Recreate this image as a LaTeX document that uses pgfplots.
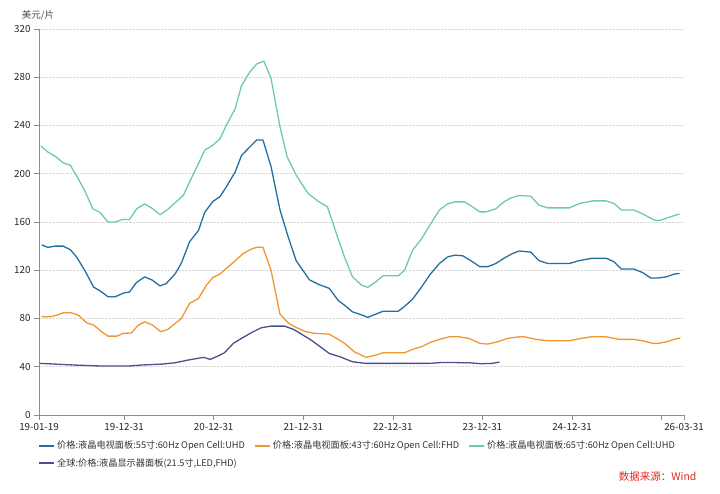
\documentclass[border=0pt]{standalone}
\usepackage{fontspec}
\setmainfont{Noto Sans CJK SC}
\usepackage{pgfplots}
\pgfplotsset{compat=1.18}

\definecolor{c55}{RGB}{36,111,158}
\definecolor{c43}{RGB}{242,150,48}
\definecolor{c65}{RGB}{109,200,183}
\definecolor{cmon}{RGB}{75,80,140}
\definecolor{axgray}{RGB}{140,140,140}
\definecolor{srcred}{RGB}{224,40,30}

\begin{document}
\begin{tikzpicture}
\path[use as bounding box] (0,0) rectangle (720pt,493pt);
\begin{axis}[
    at={(39pt,78pt)}, anchor=south west,
    width=645pt, height=386pt, scale only axis,
    xmin=2019.05, xmax=2026.25,
    ymin=0, ymax=320,
    axis lines*=left,
    axis line style={axgray, line width=0.8pt},
    xtick={2019.05,2020,2021,2022,2023,2024,2025,2026,2026.25},
    xticklabels={19-01-19,19-12-31,20-12-31,21-12-31,22-12-31,23-12-31,24-12-31,,26-03-31},
    scaled x ticks=false,
    ytick={0,40,...,320},
    tick align=outside,
    major tick length=5pt,
    tick style={axgray, line width=0.6pt},
    ymajorgrids=true,
    grid style={densely dotted, black!15, line width=0.8pt},
    ticklabel style={font=\fontsize{9.8}{11}\selectfont, text=black!85},
    /pgf/number format/assume math mode=true,
    legend columns=3,
    legend cell align=left,
    legend style={at={(0,0)}, anchor=north west, xshift=-4pt, yshift=-22pt,
        draw=none, fill=none, font=\fontsize{9.2}{11}\selectfont, text=black!80,
        row sep=4pt,
        /tikz/every even column/.append style={column sep=7pt}},
    legend image code/.code={\draw[#1, line width=2pt] (0pt,0pt) -- (15pt,0pt);},
    every axis plot/.append style={line width=1.3pt, line join=round, no markers},
]
% 55 inch UHD
\addplot[c55] coordinates {
(2019.08,141) (2019.15,139) (2019.23,140) (2019.32,140) (2019.40,137) (2019.47,131)
(2019.56,120) (2019.66,106) (2019.73,103) (2019.82,98) (2019.90,98) (2019.99,101)
(2020.06,102) (2020.14,110) (2020.23,114.5) (2020.31,112) (2020.40,107) (2020.47,109)
(2020.57,117) (2020.64,126) (2020.73,143.5) (2020.83,153) (2020.90,168) (2020.99,177)
(2021.07,181) (2021.14,189) (2021.24,201.5) (2021.31,215) (2021.40,222) (2021.48,228)
(2021.55,228) (2021.64,206) (2021.74,170) (2021.83,148) (2021.92,128) (2022.07,112)
(2022.18,108) (2022.29,105) (2022.39,95) (2022.46,91) (2022.55,85.5) (2022.65,83)
(2022.72,81) (2022.81,83.6) (2022.89,86) (2023.06,86) (2023.13,90) (2023.22,96)
(2023.32,106) (2023.41,116) (2023.52,125.6) (2023.61,131) (2023.69,132.5) (2023.78,132)
(2023.87,128) (2023.97,123) (2024.06,123) (2024.15,125.6) (2024.24,130) (2024.34,134)
(2024.41,136) (2024.54,135) (2024.63,128) (2024.73,125.6) (2024.97,125.6) (2025.08,128)
(2025.23,130) (2025.38,130) (2025.47,127) (2025.55,121) (2025.69,121) (2025.79,118)
(2025.88,113.5) (2025.95,113.5) (2026.05,114.5) (2026.14,116.8) (2026.20,117.4)
};
\addlegendentry{价格:液晶电视面板:55寸:60Hz Open Cell:UHD}
% 43 inch FHD
\addplot[c43] coordinates {
(2019.08,81.4) (2019.17,81.4) (2019.25,82.8) (2019.32,84.7) (2019.41,84.7) (2019.49,82.8)
(2019.58,76.5) (2019.66,74.5) (2019.75,69) (2019.82,65.4) (2019.92,65.4) (2019.99,67.7)
(2020.08,68) (2020.16,74.5) (2020.23,77.3) (2020.32,74.5) (2020.41,69) (2020.49,71)
(2020.57,76) (2020.64,80) (2020.73,92.5) (2020.83,96.6) (2020.92,107.7) (2020.99,114)
(2021.07,116.8) (2021.14,121.5) (2021.24,127.8) (2021.33,134) (2021.42,137.5) (2021.48,139)
(2021.55,139) (2021.64,120) (2021.74,83.6) (2021.83,76.5) (2021.92,72.6) (2022.03,69)
(2022.13,67.7) (2022.29,67) (2022.39,62.7) (2022.46,59.4) (2022.57,52.4) (2022.70,47.8)
(2022.81,49.7) (2022.89,51.6) (2023.13,51.6) (2023.22,54.4) (2023.32,56.6) (2023.41,59.9)
(2023.52,62.7) (2023.63,64.8) (2023.74,64.8) (2023.85,63.5) (2023.97,59.4) (2024.06,58.8)
(2024.17,60.7) (2024.28,63.5) (2024.41,64.8) (2024.47,64.8) (2024.60,62.7) (2024.73,61.5)
(2024.97,61.5) (2025.10,63.5) (2025.21,64.8) (2025.38,64.8) (2025.53,62.7) (2025.69,62.7)
(2025.79,61.5) (2025.90,59.4) (2025.97,59.4) (2026.07,61) (2026.16,63.2) (2026.21,63.8)
};
\addlegendentry{价格:液晶电视面板:43寸:60Hz Open Cell:FHD}
% 65 inch UHD
\addplot[c65] coordinates {
(2019.07,223) (2019.15,218) (2019.24,214) (2019.32,209) (2019.40,207) (2019.48,197)
(2019.56,186) (2019.65,171) (2019.73,168) (2019.82,160) (2019.90,160) (2019.98,162)
(2020.06,162) (2020.14,171) (2020.23,175) (2020.32,171) (2020.40,166) (2020.48,170)
(2020.57,176) (2020.66,182) (2020.73,193) (2020.84,210) (2020.90,219.5) (2020.99,223.6)
(2021.07,229) (2021.14,240) (2021.24,254) (2021.31,273) (2021.40,284) (2021.48,291)
(2021.56,293.4) (2021.64,279) (2021.74,239) (2021.82,214) (2021.92,199) (2022.05,184)
(2022.16,177.5) (2022.27,172.5) (2022.39,146) (2022.46,131) (2022.55,114.5) (2022.65,107.7)
(2022.72,105.8) (2022.81,110.4) (2022.89,115.4) (2023.06,115.4) (2023.13,120) (2023.22,136.6)
(2023.32,146) (2023.41,157) (2023.52,170) (2023.61,175) (2023.69,176.7) (2023.80,176.7)
(2023.89,172.5) (2023.97,168.4) (2024.04,168.4) (2024.15,171) (2024.24,176.7) (2024.32,180)
(2024.41,182) (2024.54,181.4) (2024.63,174) (2024.73,171.7) (2024.97,171.7) (2025.08,175.3)
(2025.23,177.5) (2025.38,177.5) (2025.47,175.3) (2025.55,170) (2025.69,170) (2025.79,166.7)
(2025.92,161.5) (2025.99,161.5) (2026.08,163.8) (2026.20,166.7)
};
\addlegendentry{价格:液晶电视面板:65寸:60Hz Open Cell:UHD}
% monitor 21.5 inch
\addplot[cmon] coordinates {
(2019.06,42.8) (2019.23,42.2) (2019.45,41.4) (2019.75,40.6) (2020.05,40.6) (2020.19,41.4)
(2020.42,42.2) (2020.57,43.3) (2020.71,45.5) (2020.89,47.8) (2020.96,46.1) (2021.05,48.9)
(2021.12,51.6) (2021.22,59.4) (2021.31,63.5) (2021.42,68.2) (2021.53,72.3) (2021.64,73.7)
(2021.79,73.7) (2021.89,71) (2021.98,67) (2022.09,62) (2022.20,56) (2022.29,51)
(2022.41,48.3) (2022.55,44.1) (2022.70,42.8) (2023.41,42.8) (2023.56,43.6) (2023.85,43.3)
(2023.99,42.5) (2024.11,42.8) (2024.19,43.9)
};
\addlegendentry{全球:价格:液晶显示器面板(21.5寸,LED,FHD)}
\end{axis}
\node[text=black!70, font=\fontsize{9.5}{11}\selectfont] at (38pt,478pt) {美元/片};
\node[anchor=east, text=srcred, font=\fontsize{10.5}{12}\selectfont] at (700pt,16pt) {数据来源：Wind};
\end{tikzpicture}
\end{document}
